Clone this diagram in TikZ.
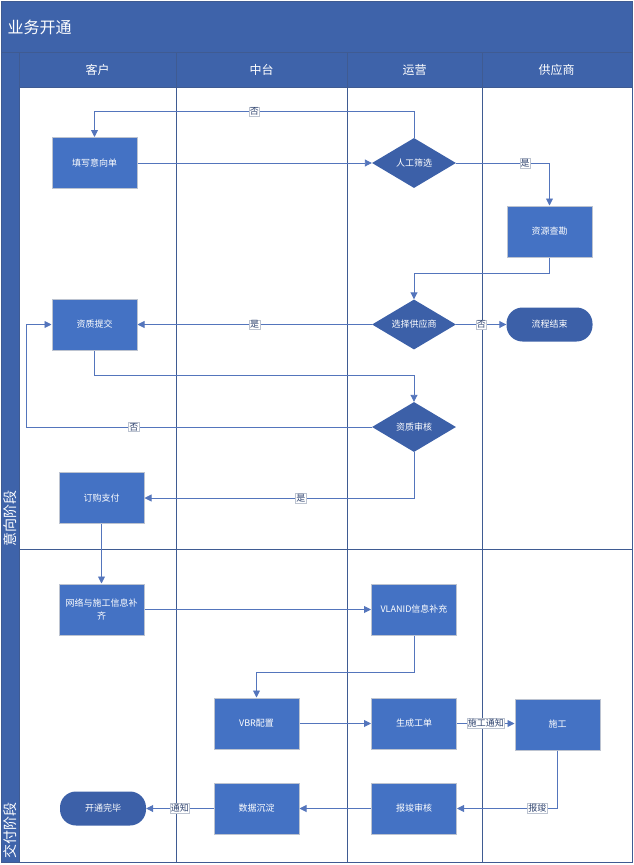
\documentclass[tikz,border=0pt]{standalone}
\usepackage{fontspec}
\setmainfont{Noto Sans CJK SC}
\usetikzlibrary{shapes.geometric,arrows.meta}
\definecolor{laneblue}{HTML}{3E63AA}
\definecolor{gridline}{HTML}{3F5B92}
\definecolor{boxblue}{HTML}{4472C4}
\definecolor{boxedge}{HTML}{BCC3D0}
\definecolor{judgeblue}{HTML}{3C60A8}
\definecolor{flowblue}{HTML}{5475BC}
\tikzset{
  proc box/.style={draw=boxedge,line width=1pt,fill=boxblue,text=white,
    minimum width=85pt,minimum height=51pt,inner sep=1pt,align=center,
    font=\fontsize{9}{13}\selectfont},
  judge/.style={diamond,fill=judgeblue,text=white,aspect=1.7,inner sep=0pt,
    minimum width=84pt,minimum height=50pt,font=\fontsize{9}{11}\selectfont},
  stop cap/.style={rectangle,rounded corners=16pt,fill=judgeblue,text=white,
    minimum width=86pt,minimum height=34pt,font=\fontsize{9}{11}\selectfont},
  flow/.style={draw=flowblue,line width=0.9pt,-{Triangle[length=7pt,width=7pt]}},
  tag/.style={fill=white,draw=boxedge,line width=0.4pt,inner sep=0.8pt,
    text=flowblue!60!black,font=\fontsize{9}{10}\selectfont},
  lane head/.style={text=white,font=\fontsize{12}{14}\selectfont},
  phase name/.style={rotate=90,anchor=west,text=white,inner sep=0pt,
    font=\fontsize{14}{16}\selectfont},
}

\begin{document}
\begin{tikzpicture}[x=1pt,y=-1pt]
  \useasboundingbox (0,0) rectangle (634,865);

  % lanes and frame
  \fill[laneblue] (1,1) rectangle (632,87);
  \fill[laneblue] (1,52) rectangle (19,862);
  \draw[gridline,line width=0.8pt] (1,1) rectangle (632,862);
  \draw[gridline,line width=0.8pt] (1,52) -- (632,52);
  \draw[gridline,line width=0.8pt] (19,87) -- (632,87);
  \draw[gridline,line width=0.8pt] (19,549) -- (632,549);
  \foreach \lx in {19,176,347,482}
    \draw[gridline,line width=1pt] (\lx,52) -- (\lx,862);

  \node[anchor=west,text=white,font=\fontsize{16}{18}\selectfont] (title) at (4,27) {业务开通};
  \node[lane head] (hcust) at (97.5,70) {客户};
  \node[lane head] (hmid) at (261.5,70) {中台};
  \node[lane head] (hops) at (414.5,70) {运营};
  \node[lane head] (hsup) at (556.5,70) {供应商};
  \node[phase name] (ph1) at (10,547) {意向阶段};
  \node[phase name] (ph2) at (10,859) {交付阶段};

  % steps
  \node[proc box] (intent) at (94.5,163) {填写意向单};
  \node[judge] (screen) at (414,163) {人工筛选};
  \node[proc box] (survey) at (549.5,231.5) {资源查勘};
  \node[judge] (pick) at (414,324.5) {选择供应商};
  \node[stop cap] (finish) at (549.5,324.5) {流程结束};
  \node[proc box] (qualify) at (94.5,324.5) {资质提交};
  \node[judge] (check) at (414,427) {资质审核};
  \node[proc box] (order) at (101.5,498) {订购支付};
  \node[proc box] (netinfo) at (101.5,609.5) {网络与施工信息补\\齐};
  \node[proc box] (vlan) at (414,609.5) {VLANID信息补充};
  \node[proc box] (vbr) at (256.5,723.5) {VBR配置};
  \node[proc box] (ticket) at (414,723.5) {生成工单};
  \node[proc box] (build) at (557.5,724.5) {施工};
  \node[proc box] (audit) at (414,808.5) {报竣审核};
  \node[proc box] (settle) at (256.5,808.5) {数据沉淀};
  \node[stop cap] (done) at (103,808.5) {开通完毕};

  % flow
  \draw[flow] (screen.north) -- ++(0,-26) -| node[tag,pos=0.25]{否} (intent.north);
  \draw[flow] (intent) -- (screen);
  \draw[flow] (screen.east) -| node[tag,pos=0.37]{是} (survey.north);
  \draw[flow] (survey.south) -- ++(0,16) -| (pick.north);
  \draw[flow] (pick) -- node[tag]{是} (qualify);
  \draw[flow] (pick) -- node[tag]{否} (finish);
  \draw[flow] (qualify.south) -- ++(0,25) -| (check.north);
  \draw[flow] (check.west) -- node[tag,pos=0.69]{否} ++(-345,0) |- (qualify.west);
  \draw[flow] (check.south) |- node[tag,pos=0.71]{是} (order.east);
  \draw[flow] (order) -- (netinfo);
  \draw[flow] (netinfo) -- (vlan);
  \draw[flow] (vlan.south) -- ++(0,37) -| (vbr.north);
  \draw[flow] (vbr) -- (ticket);
  \draw[flow] (ticket.east) -- node[tag]{施工通知} (ticket.east-|build.west);
  \draw[flow] (build.south) |- node[tag,pos=0.6]{报竣} (audit.east);
  \draw[flow] (audit) -- (settle);
  \draw[flow] (settle) -- node[tag]{通知} (done);
\end{tikzpicture}
\end{document}
